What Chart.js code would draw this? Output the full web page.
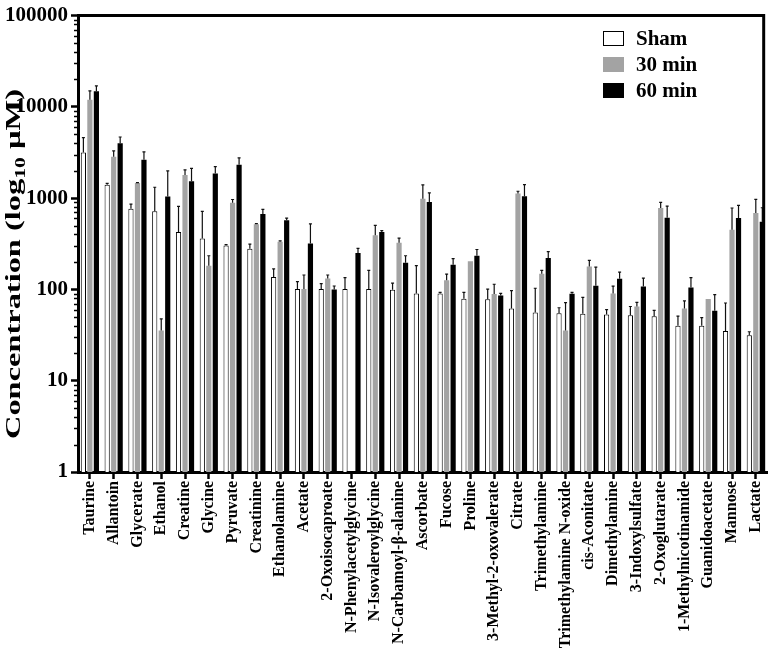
<!DOCTYPE html>
<html>
<head>
<meta charset="utf-8">
<style>
  body { margin: 0; background: #fff; }
  #wrap { position: relative; width: 777px; height: 655px; }
  #legend { position: absolute; left: 603px; top: 25px; font: bold 21px "Liberation Serif", serif; color: #000; }
  #legend .row { display: flex; align-items: center; height: 26px; }
  #legend .box { width: 21px; height: 15px; box-sizing: border-box; margin-right: 12px; }
</style>
</head>
<body>
<div id="wrap">
  <canvas id="metaboliteChart"></canvas>
  <div id="legend"></div>
</div>

<script src="https://cdnjs.cloudflare.com/ajax/libs/Chart.js/4.4.1/chart.umd.js"></script>
<script>
  const categories = ['Taurine', 'Allantoin', 'Glycerate', 'Ethanol', 'Creatine', 'Glycine', 'Pyruvate',
    'Creatinine', 'Ethanolamine', 'Acetate', '2-Oxoisocaproate', 'N-Phenylacetylglycine',
    'N-Isovaleroylglycine', 'N-Carbamoyl-β-alanine', 'Ascorbate', 'Fucose', 'Proline',
    '3-Methyl-2-oxovalerate', 'Citrate', 'Trimethylamine', 'Trimethylamine N-oxide', 'cis-Aconitate',
    'Dimethylamine', '3-Indoxylsulfate', '2-Oxoglutarate', '1-Methylnicotinamide', 'Guanidoacetate',
    'Mannose', 'Lactate'];

  const seriesNames = ['Sham', '30 min', '60 min'];

  const sham    = [3160, 1400, 765, 717, 427, 361, 303, 279, 137, 101, 101, 101, 101, 99, 90, 90, 79, 78, 62, 56, 55, 54, 53, 52, 51, 40, 40, 35, 31.4];
  const shamSd  = [1440, 50, 95, 600, 385, 355, 7, 35, 31, 21, 15, 34, 61, 18, 92, 3, 14, 23, 35, 47, 8, 28, 7, 13, 8, 11, 9, 36, 3];

  const min30   = [12000, 2840, 1466, 35.6, 1790, 182, 890, 518, 332, 101, 132, null, 393, 325, 983, 126, 203, 89, 1125, 149, 35.6, 178, 90.5, 65, 780, 62, 78.5, 452, 687];
  const min30Sd = [3000, 460, 15, 12, 250, 52, 77, 7, 8, 43, 12, null, 110, 39, 413, 21, 0, 25, 66, 13, 36, 30, 18, 7, 118, 13, 0, 328, 281];

  const min60   = [14800, 3990, 2635, 1043, 1530, 1862, 2324, 670, 572, 318, 100, 250, 427, 196, 905, 187, 234, 86, 1049, 221, 89.8, 110, 131, 108, 611, 105, 58.6, 606, 550];
  const min60Sd = [2200, 690, 585, 950, 590, 358, 436, 84, 31, 204, 9, 32, 15, 38, 238, 31, 40, 4.5, 360, 38, 3, 66, 24, 25, 208, 30, 29, 227, 235];

  const yTickValues = [1, 10, 100, 1000, 10000, 100000];
  const yTickLabels = ['1', '10', '100', '1000', '10000', '100000'];

  const fills   = ['#ffffff', '#a3a3a3', '#000000'];
  const borders = ['#000000', '#a3a3a3', '#000000'];
  const sds = [shamSd, min30Sd, min60Sd];
  const serif = '"Liberation Serif", "Times New Roman", serif';

  // upward-only error bars with small caps
  const errorBars = {
    id: 'errorBars',
    afterDatasetsDraw(chart) {
      const c = chart.ctx, y = chart.scales.y;
      c.save();
      c.strokeStyle = '#111';
      c.lineWidth = 1.2;
      chart.data.datasets.forEach((ds, di) => {
        chart.getDatasetMeta(di).data.forEach((bar, i) => {
          const v = ds.data[i], sd = sds[di][i];
          if (v == null || !sd) return;
          const top = y.getPixelForValue(v + sd);
          c.beginPath();
          c.moveTo(bar.x, bar.y);
          c.lineTo(bar.x, top);
          c.moveTo(bar.x - 1.5, top);
          c.lineTo(bar.x + 1.5, top);
          c.stroke();
        });
      });
      c.restore();
    }
  };

  // frame, minor log ticks and the y title with a subscript
  const decorations = {
    id: 'decorations',
    afterDraw(chart) {
      const c = chart.ctx, a = chart.chartArea, y = chart.scales.y;
      c.save();
      c.strokeStyle = '#000';
      c.lineWidth = 3;
      c.beginPath();
      c.moveTo(a.left, a.top);
      c.lineTo(a.right - 4, a.top);
      c.lineTo(a.right - 4, a.bottom);
      c.stroke();

      c.lineWidth = 1.5;
      for (let e = 0; e < 5; e++) {
        for (let m = 2; m < 10; m++) {
          const py = Math.round(y.getPixelForValue(m * Math.pow(10, e))) + 0.5;
          c.beginPath();
          c.moveTo(a.left - 4, py);
          c.lineTo(a.left, py);
          c.stroke();
        }
      }

      c.fillStyle = '#000';
      c.translate(20, 264);
      c.rotate(-Math.PI / 2);
      const big = 'bold 21px ' + serif, small = 'bold 14px ' + serif;
      const p1 = 'Concentration (log', p2 = '10', p3 = ' µM)';
      c.font = big; const w1 = c.measureText(p1).width, w3 = c.measureText(p3).width;
      c.font = small; const w2 = c.measureText(p2).width;
      const total = w1 + w2 + w3;
      c.scale(350 / total, 1);
      let x = -total / 2;
      c.textBaseline = 'alphabetic';
      c.font = big; c.fillText(p1, x, 0); x += w1;
      c.font = small; c.fillText(p2, x, 5); x += w2;
      c.font = big; c.fillText(p3, x, 0);
      c.restore();
    }
  };

  const ctx = document.getElementById('metaboliteChart');
  new Chart(ctx, {
    type: 'bar',
    data: {
      labels: categories,
      datasets: [sham, min30, min60].map((d, i) => ({
        label: seriesNames[i],
        data: d,
        backgroundColor: fills[i],
        borderColor: borders[i],
        borderWidth: i === 0 ? 1 : 0,
        categoryPercentage: 0.82,
        barPercentage: 0.8
      }))
    },
    options: {
      responsive: true,
      maintainAspectRatio: false,
      animation: false,
      layout: { padding: { top: 12, right: 0, left: 0, bottom: 0 } },
      scales: {
        x: {
          afterFit: s => { s.height = 183; },
          border: { color: '#000', width: 3 },
          grid: { drawOnChartArea: false, offset: false, tickLength: 7, tickWidth: 2.5, tickColor: '#000' },
          ticks: {
            autoSkip: false, maxRotation: 90, minRotation: 90, padding: 2,
            color: '#000', font: { family: serif, weight: 'bold', size: 16 }
          }
        },
        y: {
          type: 'logarithmic',
          min: 1,
          max: 100000,
          afterFit: s => { s.width = 78; },
          afterBuildTicks: s => { s.ticks = yTickValues.map(v => ({ value: v })); },
          border: { color: '#000', width: 3 },
          grid: { drawOnChartArea: false, tickLength: 7, tickWidth: 2.5, tickColor: '#000' },
          ticks: {
            autoSkip: false, padding: 3, color: '#000',
            font: { family: serif, weight: 'bold', size: 21 },
            callback: v => { const k = yTickValues.indexOf(v); return k >= 0 ? yTickLabels[k] : ''; }
          }
        }
      },
      plugins: {
        legend: { display: false },
        tooltip: { enabled: false }
      }
    },
    plugins: [errorBars, decorations]
  });

  const legend = document.getElementById('legend');
  seriesNames.forEach((name, i) => {
    const row = document.createElement('div');
    row.className = 'row';
    const box = document.createElement('span');
    box.className = 'box';
    box.style.background = fills[i];
    box.style.border = i === 0 ? '1px solid #000' : 'none';
    row.appendChild(box);
    row.appendChild(document.createTextNode(name));
    legend.appendChild(row);
  });
</script>
</body>
</html>
